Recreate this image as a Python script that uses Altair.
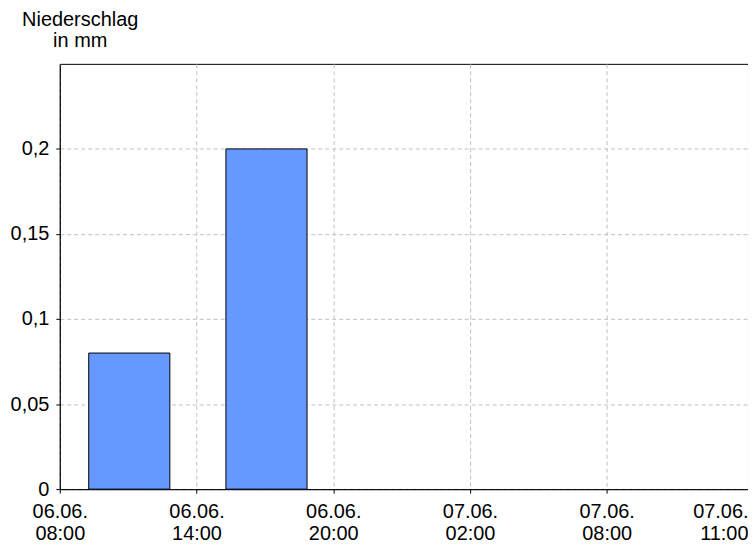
import altair as alt
import pandas as pd

# data
bar_center_hours = [3.05, 9.07]    # hours after 06.06. 08:00
bar_values = [0.08, 0.2]           # mm
bar_halfwidth = 1.78               # hours
tick_hours = [0, 6, 12, 18, 24, 30.2]
tick_dates = ["06.06.", "06.06.", "06.06.", "07.06.", "07.06.", "07.06."]
tick_times = ["08:00", "14:00", "20:00", "02:00", "08:00", "11:00"]
y_ticks = [0, 0.05, 0.1, 0.15, 0.2]

df = pd.DataFrame({
    "start": [c - bar_halfwidth for c in bar_center_hours],
    "end": [c + bar_halfwidth for c in bar_center_hours],
    "value": bar_values,
})

label_expr = " : ".join(
    f"datum.value == {h} ? ['{d}', '{t}']" for h, d, t in zip(tick_hours, tick_dates, tick_times)
) + " : ''"

FONT = "Liberation Sans"

x_axis = alt.Axis(
    values=tick_hours, labelExpr=label_expr, title=None,
    grid=True, gridColor="#c0c0c0", gridDash=[4, 3], gridWidth=1,
    domainColor="black", tickColor="black", tickSize=4,
    labelFont=FONT, labelFontSize=20, labelColor="black",
    labelBaseline="top", labelPadding=8, labelLineHeight=23,
    labelAlign={"condition": {"test": "datum.value > 29", "value": "right"}, "value": "center"},
    labelOverlap=False, labelFlush=False,
)
y_axis = alt.Axis(
    values=y_ticks, labelExpr="replace(toString(datum.value), '.', ',')",
    title=["Niederschlag", "in mm"], titleAngle=0, titleAlign="center",
    titleBaseline="top", titleX=20, titleY=-55, titleFont=FONT, titleFontSize=20,
    titleFontWeight="normal", titleColor="black", titleLineHeight=22,
    grid=True, gridColor="#c0c0c0", gridDash=[4, 3], gridWidth=1,
    domainColor="black", tickColor="black", tickSize=4,
    labelFont=FONT, labelFontSize=20, labelColor="black", labelPadding=7,
)

chart = alt.Chart(df).mark_bar(color="#6699ff", stroke="black", strokeWidth=1).encode(
    x=alt.X("start:Q", scale=alt.Scale(domain=[0, 30.2], nice=False, zero=False), axis=x_axis),
    x2="end:Q",
    y=alt.Y("value:Q", scale=alt.Scale(domain=[0, 0.25], nice=False), axis=y_axis),
    y2=alt.datum(0),
).properties(
    width=691, height=427,
    autosize=alt.AutoSizeParams(type="none"),
    padding={"left": 52, "top": 55, "right": 0, "bottom": 54},
    background="white",
).configure_view(stroke="black", strokeWidth=1)

chart.save("out.html", embed_options={"renderer": "svg", "actions": False})
